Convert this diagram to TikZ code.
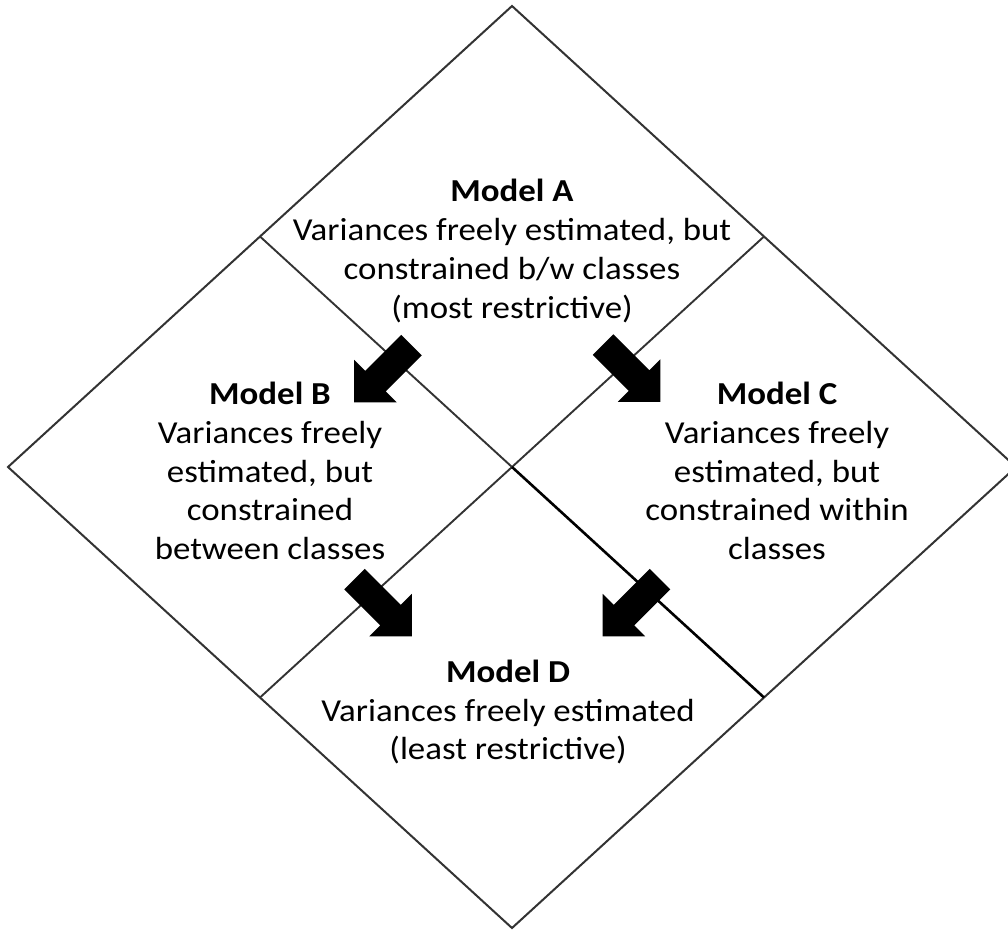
\documentclass[tikz,border=0pt]{standalone}
\usepackage{fontspec}
\setmainfont{Carlito}[FakeStretch=1.09]
\usetikzlibrary{calc}
\begin{document}
\begin{tikzpicture}[x=1pt,y=-1pt,
  frame/.style={draw=black!80,line width=2pt,line join=miter},
  divider/.style={draw=black!80,line width=1.9pt},
  heavydivider/.style={draw=black,line width=2.6pt},
  modeltext/.style={align=center,inner sep=0pt,
    font=\fontsize{32}{38.7}\selectfont},
  blockarrow/.pic={\fill[black] (0,-14.5) -- (51,-14.5) -- (51,-30) -- (81,0)
    -- (51,30) -- (51,14.5) -- (0,14.5) -- cycle;}]
\useasboundingbox (0,0) rectangle (1008,930);
\clip (0,0) rectangle (1008,930);

% outer diamond and its corners
\coordinate (T) at (512,6);
\coordinate (L) at (8,467);
\coordinate (R) at (1016,467);
\coordinate (B) at (512,928);
\coordinate (O) at (512,467);
% midpoints of the four outer edges
\coordinate (UL) at ($(T)!0.5!(L)$);
\coordinate (UR) at ($(T)!0.5!(R)$);
\coordinate (LL) at ($(B)!0.5!(L)$);
\coordinate (LR) at ($(B)!0.5!(R)$);

\path[frame] (T) -- (R) -- (B) -- (L) -- cycle;
\path[divider] (UL) -- (O) (UR) -- (O) (O) -- (LL);
\path[heavydivider] (O) -- (LR);

% model descriptions
\node[modeltext] (ma) at (512,251) {\textbf{Model A}\\Variances freely estimated, but\\constrained b/w classes\\(most restrictive)};
\node[modeltext] (mb) at (270,471) {\textbf{Model B}\\Variances freely\\estimated, but\\constrained\\between classes};
\node[modeltext] (mc) at (777,471) {\textbf{Model C}\\Variances freely\\estimated, but\\constrained within\\classes};
\node[modeltext] (md) at (508,712) {\textbf{Model D}\\Variances freely estimated\\(least restrictive)};

% block arrows between the models
\pic (ab) at (411.5,345) [rotate=225] {blockarrow};
\pic (ac) at (603,344.5) [rotate=-45] {blockarrow};
\pic (bd) at (354.5,579) [rotate=-45] {blockarrow};
\pic (cd) at (660,579) [rotate=225] {blockarrow};
\end{tikzpicture}
\end{document}
